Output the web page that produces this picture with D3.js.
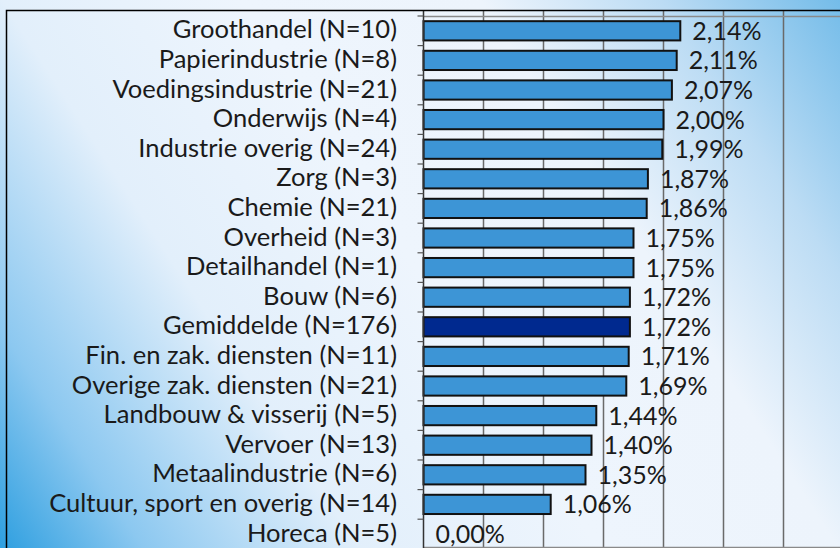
<html lang="nl">
<head>
  <meta charset="UTF-8">
  <title>Verzuim per sector</title>
  <style>
    body { margin: 0; overflow: hidden; }
    svg { display: block; }
  </style>
</head>
<body>
  <div id="my_dataviz"></div>
  <script src="https://d3js.org/d3.v7.min.js"></script>
  <script>

    // data
    const sectors = ["Groothandel (N=10)", "Papierindustrie (N=8)", "Voedingsindustrie (N=21)",
      "Onderwijs (N=4)", "Industrie overig (N=24)", "Zorg (N=3)", "Chemie (N=21)",
      "Overheid (N=3)", "Detailhandel (N=1)", "Bouw (N=6)", "Gemiddelde (N=176)",
      "Fin. en zak. diensten (N=11)", "Overige zak. diensten (N=21)", "Landbouw & visserij (N=5)",
      "Vervoer (N=13)", "Metaalindustrie (N=6)", "Cultuur, sport en overig (N=14)", "Horeca (N=5)"];
    const values = [2.14, 2.11, 2.07, 2.00, 1.99, 1.87, 1.86, 1.75, 1.75, 1.72, 1.72,
      1.71, 1.69, 1.44, 1.40, 1.35, 1.06, 0.00];
    const gridValues = [0, 0.5, 1, 1.5, 2, 2.5, 3, 3.5];
    const highlight = "Gemiddelde (N=176)";

    const W = 840, H = 548;
    const plotLeft = 423.5, plotTop = 16, plotBottom = 548.8;
    const fontFam = "Lato, 'Open Sans', sans-serif";

    const svg = d3.select("#my_dataviz")
      .append("svg")
      .attr("width", W)
      .attr("height", H);

    // background gradient (bottom-left -> top-right)
    const defs = svg.append("defs");
    const grad = defs.append("linearGradient")
      .attr("id", "bg")
      .attr("gradientUnits", "userSpaceOnUse")
      .attr("x1", 0).attr("y1", H).attr("x2", W).attr("y2", 0);
    [[0, "#2e9fe0"], [0.12, "#8cc8f0"], [0.3, "#e2effb"], [0.5, "#eef5fd"],
     [0.7, "#edf4fc"], [0.85, "#bcdcf4"], [1, "#74bce9"]]
      .forEach(s => grad.append("stop").attr("offset", s[0]).attr("stop-color", s[1]));

    svg.append("rect").attr("width", W).attr("height", H).attr("fill", "url(#bg)");

    const x = d3.scaleLinear()
      .domain([0, 1])
      .range([plotLeft, plotLeft + 120]);

    const y = d3.scaleBand()
      .domain(sectors)
      .range([plotTop, plotBottom])
      .paddingInner(0.35)
      .paddingOuter(0.175);

    // vertical gridlines
    svg.append("g")
      .selectAll("line")
      .data(gridValues.slice(1))
      .join("line")
      .attr("x1", d => x(d)).attr("x2", d => x(d))
      .attr("y1", 10.5).attr("y2", H)
      .attr("stroke", "#6a6a6a")
      .attr("stroke-width", 1.5);

    // top and bottom lines of plot area
    svg.append("g")
      .selectAll("line")
      .data([16.5, 547.5])
      .join("line")
      .attr("x1", plotLeft).attr("x2", W)
      .attr("y1", d => d).attr("y2", d => d)
      .attr("stroke", "#8a8a8a")
      .attr("stroke-width", 1.5);

    // bars
    svg.append("g")
      .selectAll("rect")
      .data(sectors)
      .join("rect")
      .attr("x", x(0))
      .attr("y", d => y(d))
      .attr("width", (d, i) => x(values[i]) - x(0))
      .attr("height", y.bandwidth())
      .attr("fill", d => d === highlight ? "#00298f" : "#3d95d6")
      .attr("stroke", "#111")
      .attr("stroke-width", (d, i) => values[i] > 0 ? 2 : 0);

    // y axis with ticks between categories
    const axis = svg.append("g");
    axis.append("line")
      .attr("x1", plotLeft).attr("x2", plotLeft)
      .attr("y1", 10).attr("y2", H)
      .attr("stroke", "#333")
      .attr("stroke-width", 1.5);
    axis.selectAll(".tk")
      .data(d3.range(sectors.length + 1))
      .join("line")
      .attr("class", "tk")
      .attr("x1", plotLeft - 6).attr("x2", plotLeft)
      .attr("y1", i => plotTop + i * y.step())
      .attr("y2", i => plotTop + i * y.step())
      .attr("stroke", "#555")
      .attr("stroke-width", 1.2);

    // category labels
    const labels = svg.append("g")
      .selectAll("text")
      .data(sectors)
      .join("text")
      .attr("x", 397)
      .attr("y", d => y(d) + y.bandwidth() / 2 + 7.5)
      .attr("text-anchor", "end")
      .style("font-family", fontFam)
      .style("font-size", "23px")
      .style("fill", "#1a1a1a")
      .text(d => d);

    // fit the longest label to the width it has in the reference
    const longest = d3.max(labels.nodes(), n => n.getComputedTextLength());
    labels.style("font-size", (23 * 348 / longest).toFixed(2) + "px");

    // value labels
    svg.append("g")
      .selectAll("text")
      .data(values)
      .join("text")
      .attr("x", d => x(d) + 12)
      .attr("y", (d, i) => y(sectors[i]) + y.bandwidth() / 2 + 9)
      .style("font-family", fontFam)
      .style("font-size", "25px")
      .style("fill", "#1a1a1a")
      .text(d => d.toFixed(2).replace(".", ",") + "%");

    // chart border
    svg.append("rect")
      .attr("x", 6.5).attr("y", 10.5)
      .attr("width", W).attr("height", H)
      .attr("fill", "none")
      .attr("stroke", "#000")
      .attr("stroke-width", 1.5);

  </script>
</body>
</html>
